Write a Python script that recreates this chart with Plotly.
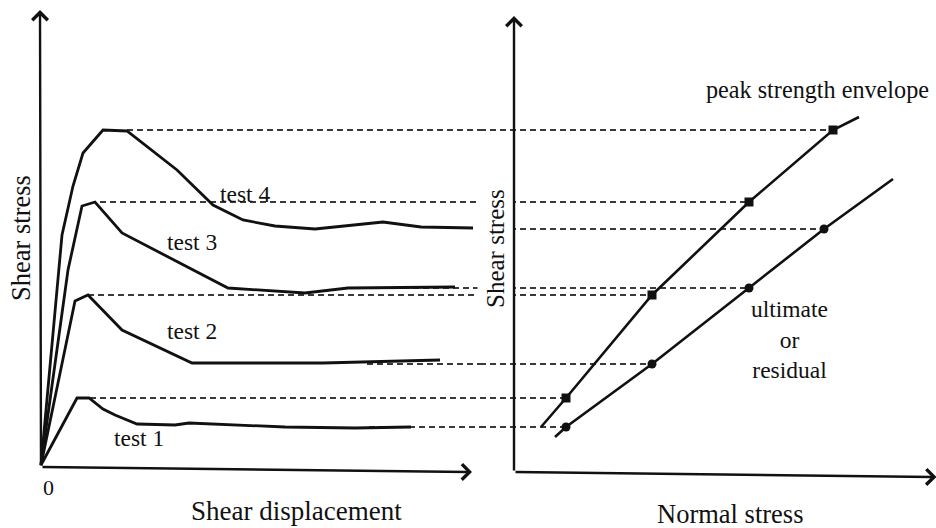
import plotly.graph_objects as go

# ---------------- data (schematic, arbitrary units) ----------------
# left panel: shear stress vs shear displacement for four direct shear tests
disp_test1 = [0, 0.9, 1.2, 1.55, 1.85, 2.4, 3.35, 3.7, 6.1, 7.85, 9.25]
stress_test1 = [0, 13.4, 13.4, 11.2, 10.0, 8.2, 8.0, 8.4, 7.6, 7.4, 7.6]

disp_test2 = [0, 0.85, 1.175, 2.025, 3.775, 7.05, 9.975]
stress_test2 = [0, 32.8, 34.0, 27.0, 20.4, 20.4, 21.0]

disp_test3 = [0, 0.675, 1.025, 1.35, 2.025, 4.675, 6.6, 7.675, 10.35]
stress_test3 = [0, 39.0, 51.8, 52.6, 46.4, 35.4, 34.4, 35.4, 35.6]

disp_test4 = [0, 0.525, 0.8, 1.05, 1.55, 2.15, 3.4, 4.3, 5.05, 5.85, 6.85, 8.55, 9.5, 10.8]
stress_test4 = [0, 46.0, 55.8, 62.4, 67.0, 66.8, 59.0, 52.0, 49.0, 47.8, 47.2, 48.6, 47.6, 47.4]

test_labels = ["test 1", "test 2", "test 3", "test 4"]

# displacement where the projection (dashed) lines start
peak_disp = [1.225, 1.175, 1.475, 2.15]
resid_disp = [8.2, 8.15, 8.05, None]

# right panel: strength envelopes
normal_peak = [13.0, 34.5, 58.75, 79.75]
peak_strength = [13.4, 34.0, 52.6, 67.0]
normal_resid = [13.0, 34.5, 58.75, 77.5]
resid_strength = [7.6, 20.2, 35.4, 47.2]

peak_env_ends_normal = [6.75, 86.25]
peak_env_ends_stress = [7.6, 69.6]
resid_env_ends_normal = [10.25, 94.75]
resid_env_ends_stress = [5.6, 57.2]

# ---------------- layout helpers ----------------
W, H = 936, 528
SPLIT = 480 / W
X1_RANGE = [-1.025, 10.975]
X2_RANGE = [-8.5, 105.5]
Y_RANGE = [-12.6, 93.0]


def px(x):
    return x / W


def py(y):
    return 1 - y / H


FONT = "Liberation Serif, Times New Roman, serif"
INK = "#111111"
DASH_COL = "#3a3a3a"

fig = go.Figure()

# dashed projection lines (peak and residual) from left curves to right markers
dash_style = dict(color=DASH_COL, width=1.9, dash="6px,4px")
for i in range(4):
    fig.add_trace(go.Scatter(x=[peak_disp[i], X1_RANGE[1]], y=[peak_strength[i]] * 2,
                             mode="lines", line=dash_style, xaxis="x", yaxis="y",
                             hoverinfo="skip", showlegend=False))
    fig.add_trace(go.Scatter(x=[X2_RANGE[0], normal_peak[i]], y=[peak_strength[i]] * 2,
                             mode="lines", line=dash_style, xaxis="x2", yaxis="y",
                             hoverinfo="skip", showlegend=False))
    if resid_disp[i] is not None:
        fig.add_trace(go.Scatter(x=[resid_disp[i], X1_RANGE[1]], y=[resid_strength[i]] * 2,
                                 mode="lines", line=dash_style, xaxis="x", yaxis="y",
                                 hoverinfo="skip", showlegend=False))
    fig.add_trace(go.Scatter(x=[X2_RANGE[0], normal_resid[i]], y=[resid_strength[i]] * 2,
                             mode="lines", line=dash_style, xaxis="x2", yaxis="y",
                             hoverinfo="skip", showlegend=False))

# stress-displacement curves
curves = [(disp_test1, stress_test1), (disp_test2, stress_test2),
          (disp_test3, stress_test3), (disp_test4, stress_test4)]
for (xs, ys), name in zip(curves, test_labels):
    fig.add_trace(go.Scatter(x=xs, y=ys, mode="lines", name=name,
                             line=dict(color=INK, width=2.8), xaxis="x", yaxis="y",
                             showlegend=False))

# envelopes
fig.add_trace(go.Scatter(
    x=[peak_env_ends_normal[0]] + normal_peak + [peak_env_ends_normal[1]],
    y=[peak_env_ends_stress[0]] + peak_strength + [peak_env_ends_stress[1]],
    mode="lines", line=dict(color=INK, width=2.6), xaxis="x2", yaxis="y", showlegend=False))
fig.add_trace(go.Scatter(
    x=[resid_env_ends_normal[0]] + normal_resid + [resid_env_ends_normal[1]],
    y=[resid_env_ends_stress[0]] + resid_strength + [resid_env_ends_stress[1]],
    mode="lines", line=dict(color=INK, width=2.6), xaxis="x2", yaxis="y", showlegend=False))
fig.add_trace(go.Scatter(x=normal_peak, y=peak_strength, mode="markers",
                         marker=dict(symbol="square", size=9, color=INK),
                         xaxis="x2", yaxis="y", showlegend=False))
fig.add_trace(go.Scatter(x=normal_resid, y=resid_strength, mode="markers",
                         marker=dict(symbol="circle", size=9, color=INK),
                         xaxis="x2", yaxis="y", showlegend=False))

annotations = []


def label(text, x, y, size, angle=0, xanchor="center", **kw):
    annotations.append(dict(text=text, x=px(x), y=py(y), xref="paper", yref="paper",
                            showarrow=False, xanchor=xanchor, yanchor="middle",
                            textangle=angle, font=dict(family=FONT, size=size, color=INK), **kw))


label("Shear stress", 21, 238, 26.5, angle=-90)
label("Shear stress", 495, 249, 25, angle=-90, bgcolor="white", borderpad=4)
label("Shear displacement", 296, 511, 27)
label("Normal stress", 730, 514, 26.5)
label("0", 48, 487, 22)
label("test 4", 245, 194, 23.5)
label("test 3", 192, 242, 23.5)
label("test 2", 192, 331, 23.5)
label("test 1", 139, 438, 23.5)
label("peak strength envelope", 704, 89, 24.2, xanchor="left")
label("ultimate<br>or<br>residual", 789, 339, 23.5)

# axis arrows (drawn after labels so they stay on top)
arrow = dict(showarrow=True, text="", arrowhead=4, arrowsize=1.25, arrowwidth=2.4,
             arrowcolor=INK, standoff=0, startstandoff=0)
annotations.append(dict(xref="x", yref="y", axref="x", ayref="y",
                        x=X1_RANGE[0] + 1.0, y=91.0, ax=0, ay=-0.4, **arrow))
annotations.append(dict(xref="x", yref="y", axref="x", ayref="y",
                        x=10.775, y=-1.4, ax=0, ay=-0.4, **arrow))
annotations.append(dict(xref="x2", yref="y", axref="x2", ayref="y",
                        x=0, y=89.8, ax=0, ay=-1.4, **arrow))
annotations.append(dict(xref="x2", yref="y", axref="x2", ayref="y",
                        x=105.6, y=-2.4, ax=0, ay=-1.4, **arrow))

hidden = dict(visible=False, showgrid=False, zeroline=False, fixedrange=True)
fig.update_layout(
    width=W, height=H,
    margin=dict(l=0, r=0, t=0, b=0),
    paper_bgcolor="white", plot_bgcolor="white",
    xaxis=dict(domain=[0, SPLIT], range=X1_RANGE, **hidden),
    xaxis2=dict(domain=[SPLIT, 1], range=X2_RANGE, anchor="y", **hidden),
    yaxis=dict(domain=[0, 1], range=Y_RANGE, **hidden),
    annotations=annotations,
    showlegend=False,
)

fig.write_html("out.html")
